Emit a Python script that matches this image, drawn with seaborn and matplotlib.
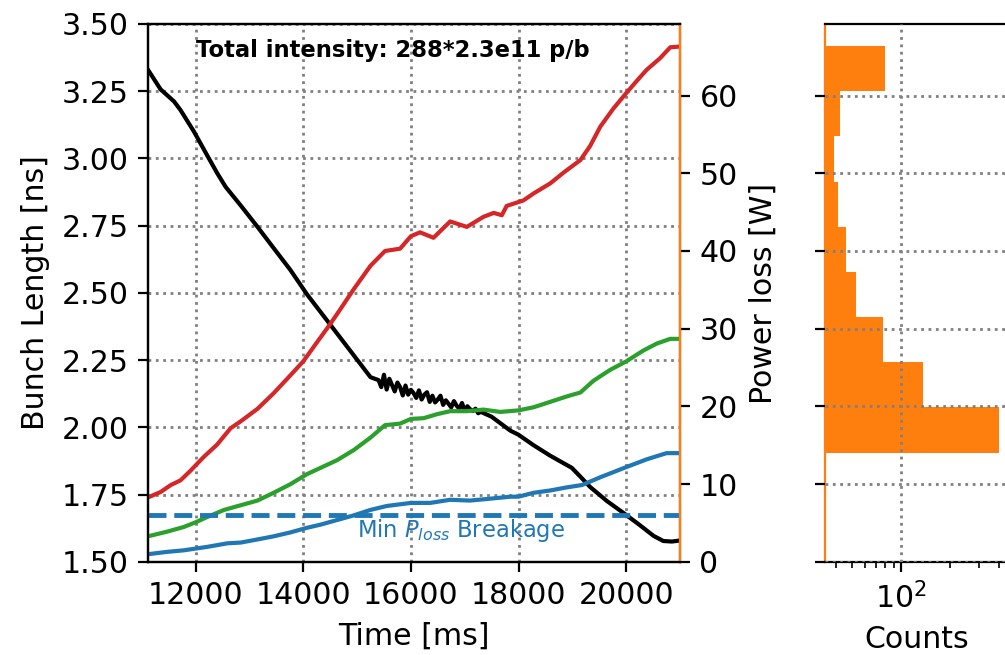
import numpy as np
import matplotlib
matplotlib.use("Agg")
import matplotlib.pyplot as plt
import seaborn as sns

plt.rcParams["font.size"] = 10.8

# ---------------- data ----------------
# Bunch length (black), left axis [ns]
bl_time = [11115, 11350, 11600, 11720, 11970, 12220, 12400, 12560, 12840, 13150,
           13450, 13760, 14070, 14400, 14630, 14940, 15250,
           15400, 15450, 15500, 15550, 15600, 15650, 15700, 15750, 15800, 15850,
           15900, 15950, 16000, 16050, 16100, 16150, 16200, 16250, 16300, 16350,
           16400, 16450, 16500, 16550, 16600, 16650, 16700, 16750, 16800, 16850,
           16900, 16950, 17000, 17050, 17100, 17150, 17200, 17250, 17300,
           17500, 17850, 18000, 18280, 18590, 18990, 19150, 19330, 19640, 20000,
           20260, 20510, 20690, 20850, 21000]
bl_ns = [3.330, 3.257, 3.212, 3.180, 3.100, 3.010, 2.946, 2.894, 2.825, 2.746,
         2.667, 2.586, 2.495, 2.409, 2.349, 2.268, 2.187,
         2.176, 2.150, 2.196, 2.141, 2.181, 2.158, 2.134, 2.167, 2.150, 2.119,
         2.156, 2.122, 2.140, 2.128, 2.110, 2.138, 2.104, 2.122, 2.131, 2.095,
         2.118, 2.093, 2.104, 2.118, 2.084, 2.101, 2.088, 2.075, 2.098, 2.081,
         2.070, 2.091, 2.062, 2.079, 2.068, 2.061, 2.070, 2.053, 2.058,
         2.040, 1.988, 1.973, 1.934, 1.895, 1.850, 1.817, 1.779, 1.727, 1.675,
         1.636, 1.597, 1.578, 1.576, 1.580]

# Power loss curves, right axis [W]
red_time = [11115, 11350, 11540, 11720, 11900, 12150, 12400, 12650, 12840, 13150,
            13450, 13760, 14000, 14260, 14480, 14630, 14940, 15250, 15520, 15800,
            16000, 16170, 16420, 16730, 17040, 17350, 17540, 17690, 17780, 18090,
            18280, 18590, 18840, 19150, 19330, 19520, 19760, 20000, 20200, 20380,
            20630, 20820, 21000]
red_w = [8.3, 9.0, 9.9, 10.5, 11.7, 13.5, 15.1, 17.2, 18.1, 19.7,
         21.7, 24.0, 25.8, 28.3, 30.4, 31.9, 35.1, 38.1, 40.0, 40.3,
         41.9, 42.4, 41.7, 43.8, 43.1, 44.4, 44.9, 44.6, 45.8, 46.5,
         47.4, 48.7, 50.1, 51.7, 53.5, 56.0, 58.3, 60.3, 61.9, 63.3,
         64.8, 66.2, 66.3]

green_time = [11115, 11470, 11780, 12000, 12220, 12530, 12840, 13150, 13450, 13760,
              14070, 14320, 14630, 14940, 15250, 15520, 15800, 16000, 16240, 16480,
              16730, 17040, 17350, 17660, 18000, 18280, 18590, 18900, 19150, 19390,
              19700, 20000, 20320, 20570, 20820, 21000]
green_w = [3.3, 3.9, 4.5, 5.1, 5.8, 6.7, 7.3, 7.9, 8.9, 10.0,
           11.3, 12.1, 13.1, 14.4, 16.0, 17.6, 17.8, 18.4, 18.5, 19.0,
           19.4, 19.4, 19.6, 19.3, 19.5, 19.9, 20.6, 21.3, 21.8, 23.3,
           24.7, 25.8, 27.2, 28.1, 28.7, 28.7]

blue_time = [11115, 11470, 11780, 12220, 12590, 12840, 13150, 13450, 13760, 14070,
             14320, 14630, 14940, 15250, 15550, 16000, 16360, 16730, 17100, 17410,
             17850, 18000, 18280, 18590, 18900, 19180, 19520, 20000, 20380, 20750,
             21000]
blue_w = [1.0, 1.3, 1.5, 1.95, 2.4, 2.5, 2.9, 3.3, 3.8, 4.4,
          4.8, 5.4, 6.0, 6.7, 7.2, 7.6, 7.6, 8.0, 7.9, 8.1,
          8.4, 8.4, 8.9, 9.2, 9.6, 9.9, 10.9, 12.2, 13.2, 14.0,
          14.0]

min_ploss_breakage = 6.1   # W, dashed line

# Histogram of power loss (horizontal, log counts)
hist_edges = [14.07, 19.88, 25.69, 31.50, 37.31, 43.12, 48.93, 54.74, 60.55, 66.36]
hist_counts = [401, 136, 78, 53, 46, 41, 39, 42, 80]

# ---------------- figure ----------------
fig = plt.figure(figsize=(5.025, 3.275), dpi=200)
ax = fig.add_axes([0.1472, 0.142, 0.5294, 0.8214])
ax2 = ax.twinx()
axh = fig.add_axes([0.8209, 0.142, 0.1831, 0.8214], sharey=ax2)

grid_kw = dict(linestyle=":", color="gray", linewidth=1.0)

sns.lineplot(x=bl_time, y=bl_ns, ax=ax, color="black", linewidth=1.5,
             estimator=None, sort=False)
ax.set_xlim(11115, 21000)
ax.set_ylim(1.5, 3.5)
ax.set_yticks([1.5, 1.75, 2.0, 2.25, 2.5, 2.75, 3.0, 3.25, 3.5])
ax.set_xticks([12000, 14000, 16000, 18000, 20000])
ax.set_xlabel("Time [ms]")
ax.set_ylabel("Bunch Length [ns]")
ax.grid(True, **grid_kw)
ax.set_axisbelow(True)
ax.text(12000, 3.40, "Total intensity: 288*2.3e11 p/b", fontsize=8.15,
        fontweight="bold", ha="left", va="center")

sns.lineplot(x=red_time, y=red_w, ax=ax2, color="C3", linewidth=1.5,
             estimator=None, sort=False)
sns.lineplot(x=green_time, y=green_w, ax=ax2, color="C2", linewidth=1.5,
             estimator=None, sort=False)
sns.lineplot(x=blue_time, y=blue_w, ax=ax2, color="C0", linewidth=1.5,
             estimator=None, sort=False)
ax2.axhline(min_ploss_breakage, color="C0", linestyle="--", linewidth=1.75)
ax2.text(16940, 4.1, r"Min $P_{loss}$ Breakage",
         color="C0", fontsize=8.15, ha="center", va="center")
ax2.set_ylim(0, 69.2)
ax2.set_yticks([0, 10, 20, 30, 40, 50, 60])
ax2.set_ylabel("Power loss [W]")
ax2.spines["right"].set_color("C1")
ax2.set_xlim(11115, 21000)

# histogram panel
centers = [(a + b) / 2 for a, b in zip(hist_edges[:-1], hist_edges[1:])]
sns.histplot(y=centers, weights=hist_counts, bins=hist_edges, ax=axh,
             color="C1", alpha=1.0, linewidth=0)
axh.set_xscale("log")
axh.set_xlim(34.2, 460)
axh.set_xticks([100])
axh.set_ylim(0, 69.2)
axh.set_xlabel("Counts")
axh.set_ylabel("")
axh.tick_params(axis="y", labelleft=False)
axh.spines["left"].set_color("C1")
axh.grid(True, **grid_kw)
axh.set_axisbelow(False)

fig.savefig("out.png", dpi=200)
